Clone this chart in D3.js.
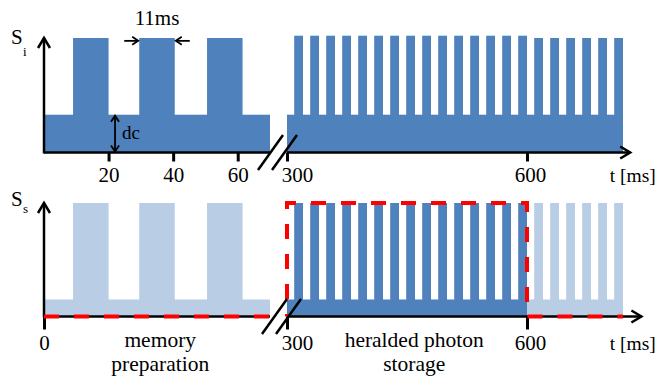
<!DOCTYPE html>
<html>
<head>
<meta charset="utf-8">
<script src="https://cdn.jsdelivr.net/npm/d3@7"></script>
<style>
  body { margin: 0; background: #fff; }
  svg { display: block; }
</style>
</head>
<body>
<svg id="chart" width="664" height="381"></svg>
<script>
// Time windows (ms): memory preparation, then the storage window after the axis break
const segEarly = [0, 70];
const segLate = [300, 720];
const pulseWidth = 11;                       // ms
const earlyPulseStarts = [9, 29.5, 50.5];    // ms
const latePulseStarts = [309, 329, 349, 369, 389, 409, 429, 449, 469, 489, 509,
                         529, 549, 569, 589, 609, 629, 649, 669, 689, 709];
// idler signal S_i: dc level and pulse heights (relative units)
const idlerDc = 0.33;
const idlerEarlyHeights = [1, 1, 1];
const idlerLateHeights = [1.02, 1.02, 1.02, 1.02, 1.02, 1.02, 1.02, 1.02, 1.02, 1.02,
                          1.02, 1.02, 1.02, 1.02, 1.02, 1, 1, 1, 1, 1, 1];
// signal S_s: dc level, highlighted storage window
const signalDc = 0.15;
const storageWindow = [300, 600];
const topTicks = [20, 40, 60, 300, 600];
const bottomTicks = [0, 300, 600];
const axisEndTop = 729;
const axisEndBottom = 743;

const DARK = "#4f81bd", LIGHT = "#b9cde5", RED = "#ff0000";
const SERIF = '"Liberation Serif"';

const svg = d3.select("#chart");
const x = d3.scaleLinear()
  .domain([segEarly[0], segEarly[1], segLate[0], segLate[1]])
  .range([44, 270, 287, 623]);
const yTop = d3.scaleLinear().domain([0, 1]).range([152.5, 38]);
const yBot = d3.scaleLinear().domain([0, 1]).range([316.5, 203]);

function label(px, py, size, str, anchor) {
  return svg.append("text")
    .attr("x", px).attr("y", py)
    .attr("text-anchor", anchor || "start")
    .attr("font-family", "Liberation Serif")
    .style("font-family", SERIF)
    .attr("font-size", size)
    .attr("fill", "#000")
    .text(str);
}

function bar(g, y, t0, t1, h, color) {
  g.append("rect")
    .attr("x", x(t0)).attr("width", x(t1) - x(t0))
    .attr("y", y(h)).attr("height", y(0) - y(h))
    .attr("fill", color);
}

// ---------- fills ----------
const fills = svg.append("g");
// S_i
bar(fills, yTop, segEarly[0], segEarly[1], idlerDc, DARK);
earlyPulseStarts.forEach((s, i) => bar(fills, yTop, s, s + pulseWidth, idlerEarlyHeights[i], DARK));
bar(fills, yTop, segLate[0], segLate[1], idlerDc, DARK);
latePulseStarts.forEach((s, i) => bar(fills, yTop, s, s + pulseWidth, idlerLateHeights[i], DARK));
// S_s
bar(fills, yBot, segEarly[0], segEarly[1], signalDc, LIGHT);
earlyPulseStarts.forEach(s => bar(fills, yBot, s, s + pulseWidth, 1, LIGHT));
bar(fills, yBot, storageWindow[0], storageWindow[1], signalDc, DARK);
bar(fills, yBot, storageWindow[1], segLate[1], signalDc, LIGHT);
latePulseStarts.forEach(s => {
  const inWindow = s + pulseWidth <= storageWindow[1];
  bar(fills, yBot, s, s + pulseWidth, 1, inWindow ? DARK : LIGHT);
});

// ---------- axes ----------
function axisLines(y, end) {
  const g = svg.append("g").attr("stroke", "#000").attr("stroke-width", 2.5)
    .attr("fill", "none").attr("stroke-linecap", "butt");
  g.append("line").attr("x1", x(segEarly[0])).attr("x2", x(segEarly[1]))
    .attr("y1", y(0)).attr("y2", y(0));
  g.append("line").attr("x1", x(segLate[0])).attr("x2", x(end))
    .attr("y1", y(0)).attr("y2", y(0));
  // x arrow head
  g.append("path").attr("d", `M${x(end) - 10},${y(0) - 6}L${x(end)},${y(0)}L${x(end) - 10},${y(0) + 6}`);
  // y axis with arrow head
  g.append("line").attr("x1", x(0)).attr("x2", x(0)).attr("y1", y(0) + 1).attr("y2", y(1));
  g.append("path").attr("d", `M${x(0) - 6},${y(1) + 10}L${x(0)},${y(1)}L${x(0) + 6},${y(1) + 10}`);
}
axisLines(yTop, axisEndTop);
axisLines(yBot, axisEndBottom);

function ticks(y, values, size) {
  const g = svg.append("g").attr("transform", `translate(0,${y(0)})`)
    .call(d3.axisBottom(x).tickValues(values).tickSize(size).tickPadding(6).tickFormat(d3.format("d")));
  g.attr("font-family", "Liberation Serif").attr("font-size", 21);
  g.select(".domain").remove();
  g.selectAll(".tick line").attr("stroke", "#000").attr("stroke-width", 3);
  g.selectAll(".tick text")
    .style("font-family", SERIF).attr("fill", "#000")
    .attr("dx", d => d === 300 ? 10 : d === 600 ? 3 : 0);
  return g;
}
ticks(yTop, topTicks, 9);
ticks(yBot, bottomTicks, 13);

// axis titles
label(x(761), 182, 19.5, "t [ms]", "end");
label(x(761), 350, 19.5, "t [ms]", "end");
label(11, 44, 21, "S");
label(23, 56, 13, "i");
label(11, 206, 21, "S");
label(23, 213, 13, "s");

// ---------- storage window outline ----------
const dash = svg.append("g").attr("stroke", RED).attr("stroke-width", 4)
  .attr("fill", "none").attr("stroke-dasharray", "15,15");
dash.append("path")
  .attr("d", `M${x(segEarly[0])},${yBot(0)}L${x(segEarly[1])},${yBot(0)}`);
const riseLen = yBot(0) - yBot(1);
dash.append("path")
  .attr("stroke-dashoffset", (30 - ((riseLen - 6) % 30)) % 30)
  .attr("d", `M${x(storageWindow[0])},${yBot(0)}L${x(storageWindow[0])},${yBot(1)}` +
             `L${x(storageWindow[1])},${yBot(1)}L${x(storageWindow[1])},${yBot(0)}` +
             `L${x(segLate[1])},${yBot(0)}`);

// ---------- axis break marks ----------
function breakMarks(y, shift) {
  const cx = (x(segEarly[1]) + x(segLate[0])) / 2 + shift;
  const cy = y(0);
  const g = svg.append("g").attr("stroke", "#000").attr("stroke-width", 2.5);
  [-7, 7].forEach(o => {
    g.append("line")
      .attr("x1", cx + o + 12.5).attr("y1", cy - 17.5)
      .attr("x2", cx + o - 12.5).attr("y2", cy + 17.5);
  });
}
breakMarks(yTop, -1);
breakMarks(yBot, 3);

// ---------- annotations ----------
const ann = svg.append("g").attr("stroke", "#000").attr("fill", "none").attr("stroke-width", 1.8);
// dc level
const dcX = x(22);
ann.append("line").attr("x1", dcX).attr("x2", dcX).attr("y1", yTop(0) - 1).attr("y2", yTop(idlerDc) + 1);
ann.append("path").attr("d", `M${dcX - 4},${yTop(idlerDc) + 7}L${dcX},${yTop(idlerDc) + 1}L${dcX + 4},${yTop(idlerDc) + 7}`);
ann.append("path").attr("d", `M${dcX - 4},${yTop(0) - 7}L${dcX},${yTop(0) - 1}L${dcX + 4},${yTop(0) - 7}`);
label(dcX + 7, 139, 19, "dc");

// pulse width marker
const pw0 = x(earlyPulseStarts[1]), pw1 = x(earlyPulseStarts[1] + pulseWidth);
const ay = yTop(0.975);
ann.append("line").attr("x1", pw0 - 15).attr("x2", pw0 - 1).attr("y1", ay).attr("y2", ay);
ann.append("path").attr("d", `M${pw0 - 7},${ay - 4}L${pw0 - 1},${ay}L${pw0 - 7},${ay + 4}`);
ann.append("line").attr("x1", pw1 + 15).attr("x2", pw1 + 1).attr("y1", ay).attr("y2", ay);
ann.append("path").attr("d", `M${pw1 + 7},${ay - 4}L${pw1 + 1},${ay}L${pw1 + 7},${ay + 4}`);
label((pw0 + pw1) / 2, 25, 21, "11ms", "middle");

// phase labels
const phases = [
  { t: 36, lines: ["memory", "preparation"] },
  { t: 459, lines: ["heralded photon", "storage"] }
];
phases.forEach(p => {
  p.lines.forEach((s, i) => label(x(p.t), 347 + i * 24, 21.5, s, "middle"));
});
</script>
</body>
</html>
